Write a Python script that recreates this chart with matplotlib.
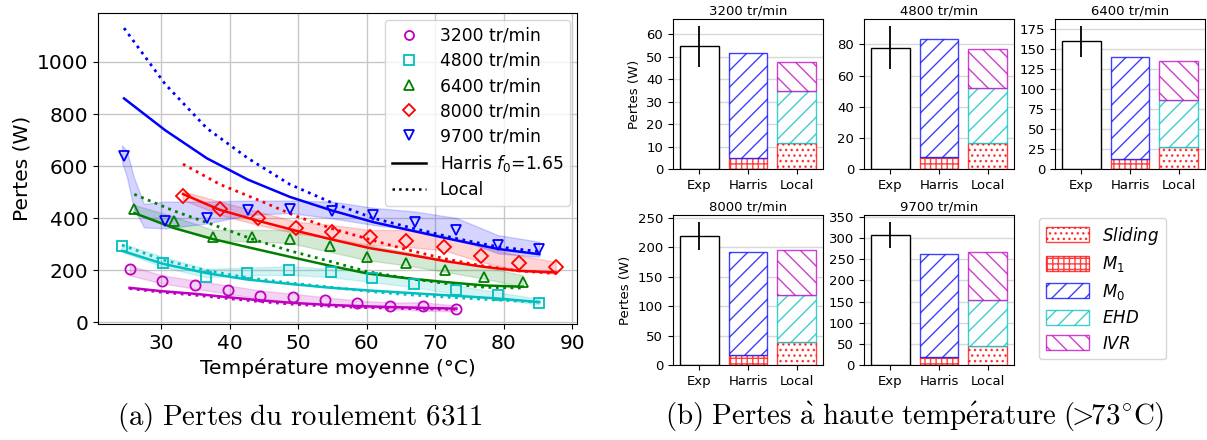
import matplotlib
matplotlib.use("Agg")
import matplotlib.pyplot as plt
from matplotlib.lines import Line2D
from matplotlib.ticker import MaxNLocator

# ---------------- (a) losses vs mean temperature ----------------
speed_labels = ["3200 tr/min", "4800 tr/min", "6400 tr/min", "8000 tr/min", "9700 tr/min"]
speed_colors = ["m", "c", "g", "r", "b"]
speed_markers = ["o", "s", "^", "D", "v"]

T3200 = [25.4, 30.1, 34.9, 39.7, 44.4, 49.2, 53.9, 58.6, 63.4, 68.2, 73.1]
P3200 = [206, 159, 145, 126, 103, 99, 87, 74, 65, 64, 53]
band_T3200 = T3200
lo3200 = [181, 150, 130, 110, 92, 79, 69, 59, 52, 45, 43]
hi3200 = [219, 181, 161, 142, 123, 110, 97, 84, 77, 77, 65]
harris3200 = [133, 120, 110, 97, 85, 75, 68, 63, 59, 56, 53]
local3200 = [130, 116, 105, 92, 80, 70, 63, 58, 55, 52, 50]

T4800 = [24.3, 30.3, 36.5, 42.5, 48.7, 54.8, 60.8, 66.9, 73.1, 79.1, 85.2]
P4800 = [295, 229, 175, 190, 203, 193, 171, 149, 124, 104, 76]
band_T4800 = T4800
lo4800 = [271, 213, 174, 181, 183, 174, 155, 135, 110, 90, 68]
hi4800 = [303, 252, 206, 210, 216, 206, 193, 168, 142, 116, 90]
harris4800 = [275, 225, 190, 165, 148, 133, 122, 112, 102, 92, 78]
local4800 = [297, 240, 200, 172, 152, 135, 118, 105, 95, 86, 78]

T6400 = [26.1, 31.9, 37.6, 43.3, 48.8, 54.6, 60.1, 65.8, 71.5, 77.2, 82.8]
P6400 = [437, 390, 329, 329, 322, 292, 253, 228, 200, 174, 155]
band_T6400 = T6400
lo6400 = [420, 368, 316, 310, 305, 271, 239, 219, 194, 168, 136]
hi6400 = [451, 406, 355, 355, 355, 322, 297, 271, 239, 213, 181]
harris6400 = [420, 362, 320, 285, 252, 218, 188, 170, 155, 142, 137]
local6400 = [492, 428, 375, 320, 275, 235, 195, 170, 150, 135, 132]

T8000 = [33.2, 38.6, 44.2, 49.7, 55.0, 60.5, 65.8, 71.3, 76.7, 82.2, 87.6]
P8000 = [486, 435, 402, 361, 348, 329, 312, 290, 254, 228, 213]
band_T8000 = T8000
lo8000 = [471, 413, 374, 342, 323, 297, 290, 277, 232, 200, 187]
hi8000 = [503, 464, 425, 387, 374, 355, 355, 329, 290, 258, 232]
harris8000 = [493, 432, 390, 352, 318, 285, 262, 236, 215, 198, 192]
local8000 = [608, 530, 470, 408, 360, 318, 280, 245, 218, 198, 188]

T9700 = [24.6, 30.6, 36.7, 42.7, 48.8, 54.9, 61.0, 67.0, 73.1, 79.2, 85.2]
P9700 = [638, 391, 402, 432, 436, 429, 413, 387, 355, 297, 281]
band_T9700 = [24.3, 25.0, 26.0, 27.5, 30.6, 36.7, 42.7, 48.8, 54.9, 61.0, 67.0, 73.1, 79.2, 85.2]
lo9700 = [615, 560, 440, 365, 361, 380, 413, 420, 400, 374, 355, 324, 265, 252]
hi9700 = [680, 660, 560, 455, 464, 464, 468, 468, 464, 440, 426, 401, 335, 310]
harris9700 = [860, 738, 630, 548, 482, 430, 385, 350, 315, 282, 262]
local9700 = [1130, 915, 745, 630, 530, 460, 400, 360, 322, 290, 272]

# ---------------- (b) loss breakdown at high temperature ----------------
bar_titles = ["3200 tr/min", "4800 tr/min", "6400 tr/min", "8000 tr/min", "9700 tr/min"]
bar_categories = ["Exp", "Harris", "Local"]
exp_mean = [54.5, 77.8, 160.1, 219.2, 307.4]
exp_err = [9.0, 13.9, 19.1, 23.8, 30.1]
harris_m1 = [5.0, 7.6, 12.0, 17.0, 19.5]
harris_m0 = [46.5, 75.8, 128.2, 174.4, 243.5]
local_sliding = [11.5, 17.0, 27.4, 39.4, 45.3]
local_ehd = [23.0, 35.2, 59.3, 80.0, 107.7]
local_ivr = [13.0, 24.9, 49.3, 76.0, 115.0]

W, H = 1207, 440
fig = plt.figure(figsize=(W / 100, H / 100), dpi=100)


def rect(left, top, width, height):
    return [left / W, 1 - (top + height) / H, width / W, height / H]


ax = fig.add_axes(rect(98, 13, 479, 311))
series = [
    (T3200, P3200, band_T3200, lo3200, hi3200, harris3200, local3200),
    (T4800, P4800, band_T4800, lo4800, hi4800, harris4800, local4800),
    (T6400, P6400, band_T6400, lo6400, hi6400, harris6400, local6400),
    (T8000, P8000, band_T8000, lo8000, hi8000, harris8000, local8000),
    (T9700, P9700, band_T9700, lo9700, hi9700, harris9700, local9700),
]
handles = []
for (T, P, TB, lo, hi, hm, lm), col, mk, lab in zip(series, speed_colors, speed_markers, speed_labels):
    ax.fill_between(TB, lo, hi, color=col, alpha=0.17, lw=1, zorder=1)
    ax.plot(T, hm, color=col, lw=1.8, ls="-", zorder=2)
    ax.plot(T, lm, color=col, lw=2.0, ls=":", zorder=2)
    ms = 6.8 if mk == "D" else 7.3
    ax.plot(T, P, ls="none", marker=mk, mfc="none", mec=col, mew=1.3, ms=ms, zorder=3)
    handles.append(Line2D([], [], ls="none", marker=mk, mfc="none", mec=col, mew=1.3, ms=6.5, label=lab))
handles.append(Line2D([], [], color="k", lw=1.8, ls="-", label=r"Harris $f_0$=1.65"))
handles.append(Line2D([], [], color="k", lw=1.8, ls=":", label="Local"))

ax.set_xlim(20.8, 90.7)
ax.set_ylim(-6, 1188)
ax.set_xticks([30, 40, 50, 60, 70, 80, 90])
ax.set_yticks([0, 200, 400, 600, 800, 1000])
ax.grid(True, color="#c8c8c8", lw=1.0)
ax.set_axisbelow(True)
ax.tick_params(labelsize=14.5)
ax.set_xlabel("Température moyenne (°C)", fontsize=14.5)
ax.set_ylabel("Pertes (W)", fontsize=14.5)
ax.legend(handles=handles, loc="upper right", fontsize=12.3, framealpha=0.8,
          handlelength=2.0, labelspacing=0.42, borderaxespad=0.4)

# Bar panels
col_left = [673, 864, 1055]
row_top = [19, 215]
positions = [(0, 0), (0, 1), (0, 2), (1, 0), (1, 1)]

hatch_specs = {
    "Sliding": ("r", "..."),
    "M1": ("r", "+++"),
    "M0": ("b", "//"),
    "EHD": ("c", "//"),
    "IVR": ("m", "\\\\"),
}
alpha_edge = 0.75


def ec(color):
    rgba = list(matplotlib.colors.to_rgba(color))
    rgba[3] = alpha_edge
    return tuple(rgba)


legend_handles = None
x = [0, 1, 2]
for i, (r, c) in enumerate(positions):
    bax = fig.add_axes(rect(col_left[c], row_top[r], 150, 150))
    bax.bar(x[0], exp_mean[i], width=0.8, color="white", edgecolor="k", lw=1.0, zorder=2)
    bax.errorbar(x[0], exp_mean[i], yerr=exp_err[i], color="k", lw=1.3, capsize=0, zorder=3)
    b_m1 = bax.bar(x[1], harris_m1[i], width=0.8, color="white", edgecolor=ec("r"),
                   hatch=hatch_specs["M1"][1], lw=1.0, zorder=2)
    b_m0 = bax.bar(x[1], harris_m0[i], bottom=harris_m1[i], width=0.8, color="white",
                   edgecolor=ec("b"), hatch=hatch_specs["M0"][1], lw=1.0, zorder=2)
    b_sl = bax.bar(x[2], local_sliding[i], width=0.8, color="white", edgecolor=ec("r"),
                   hatch=hatch_specs["Sliding"][1], lw=1.0, zorder=2)
    b_ehd = bax.bar(x[2], local_ehd[i], bottom=local_sliding[i], width=0.8, color="white",
                    edgecolor=ec("c"), hatch=hatch_specs["EHD"][1], lw=1.0, zorder=2)
    b_ivr = bax.bar(x[2], local_ivr[i], bottom=local_sliding[i] + local_ehd[i], width=0.8,
                    color="white", edgecolor=ec("m"), hatch=hatch_specs["IVR"][1], lw=1.0, zorder=2)
    bax.set_xticks(x)
    bax.set_xticklabels(bar_categories)
    bax.yaxis.set_major_locator(MaxNLocator(nbins=8, steps=[1, 2, 2.5, 5, 10]))
    bax.tick_params(labelsize=9.5)
    bax.set_title(bar_titles[i], fontsize=9.5, pad=3)
    bax.yaxis.grid(True, color="#d8d8d8", lw=1.0)
    bax.set_axisbelow(True)
    if c == 0:
        bax.set_ylabel("Pertes (W)", fontsize=9.5)
    if legend_handles is None:
        legend_handles = [b_sl, b_m1, b_m0, b_ehd, b_ivr]

fig.legend(legend_handles, [r"$Sliding$", r"$M_1$", r"$M_0$", r"$EHD$", r"$IVR$"],
           loc="upper left", bbox_to_anchor=(1039 / W, 1 - 218 / H), fontsize=12,
           handlelength=2.6, handleheight=1.0, labelspacing=0.45, borderaxespad=0.0)

# Sub-figure captions
fig.text(300 / W, 1 - 417 / H, r"$\mathrm{(a)\ Pertes\ du\ roulement\ 6311}$",
         ha="center", va="center", fontsize=20.8, math_fontfamily="cm")
fig.text(915 / W, 1 - 417 / H,
         r"$\mathrm{(b)\ Pertes\ \grave{a}\ haute\ temp\acute{e}rature\ (}\!\!{>}\!\!\mathrm{73^{\circ}C)}$",
         ha="center", va="center", fontsize=20.8, math_fontfamily="cm")

fig.savefig("out.png", dpi=100)
